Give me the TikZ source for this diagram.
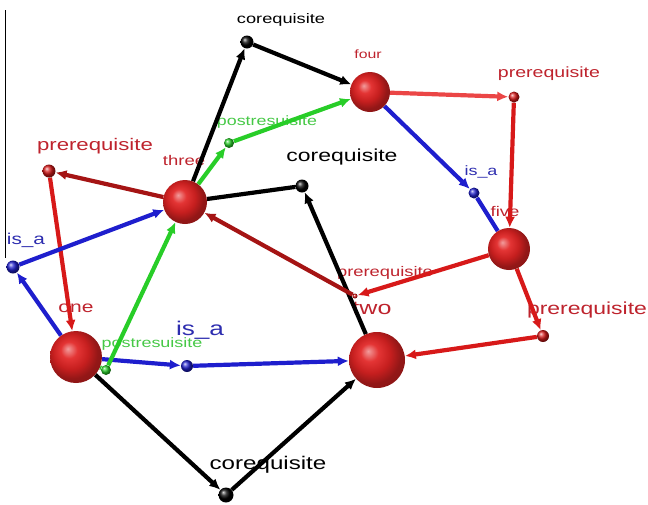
\documentclass[tikz,border=0pt]{standalone}
\usepackage{fontspec}
\setmainfont{Liberation Sans}
\usepackage{graphicx}
\usetikzlibrary{arrows.meta}
\definecolor{labred}{RGB}{190,35,45}
\definecolor{labblue}{RGB}{45,45,175}
\definecolor{labgreen}{RGB}{70,200,70}
\definecolor{edred}{RGB}{215,25,25}
\definecolor{eddark}{RGB}{165,20,20}
\definecolor{edpink}{RGB}{235,70,70}
\definecolor{edblue}{RGB}{30,30,205}
\definecolor{edgreen}{RGB}{40,205,40}
\definecolor{sphred}{RGB}{225,35,35}
\pgfdeclareradialshading{redsphere}{\pgfpoint{-8bp}{8bp}}{%
  color(0bp)=(sphred!45!white);
  color(8bp)=(sphred!92!white);
  color(17bp)=(sphred!88!black);
  color(25bp)=(sphred!65!black);
  color(50bp)=(sphred!55!black)}
\newcommand\mylbl[2]{\scalebox{1.32}[1]{\fontsize{#1}{#1}\selectfont #2}}
\pgfdeclarelayer{labs}
\pgfdeclarelayer{edges}
\pgfsetlayers{labs,edges,main}
\begin{document}
\begin{tikzpicture}[x=1pt,y=-1pt,
  bigball/.style={circle,inner sep=0pt,minimum size=#1,shading=redsphere},
  reldot/.style={circle,inner sep=0pt,minimum size=#1},
  lab/.style={inner sep=0pt,anchor=center},
  conn/.style={line width=4.2pt,-{Latex[length=11pt,width=10pt]}},
  plain/.style={line width=4.2pt}]
\useasboundingbox (0,0) rectangle (648,504);
\draw[line width=0.8pt] (5,10) -- (5,258);
% main nodes
\node[bigball=52pt] (one) at (76,357) {};
\node[bigball=56pt] (two) at (377,360) {};
\node[bigball=44pt] (three) at (185,202) {};
\node[bigball=40pt] (four) at (370,92) {};
\node[bigball=42pt] (five) at (509,249) {};
% relation dots
\node[reldot=13pt,ball color=black] (ct) at (247,42) {};
\node[reldot=11pt,ball color=edred] (prt) at (514,97) {};
\node[reldot=11pt,ball color=edblue] (ir) at (474,193) {};
\node[reldot=10pt,ball color=edgreen] (pt) at (229,143) {};
\node[reldot=13pt,ball color=edred] (pl) at (49,171) {};
\node[reldot=13pt,ball color=edblue] (il) at (13,267) {};
\node[reldot=13pt,ball color=black] (cc) at (302,186) {};
\node[reldot=5pt,ball color=edred] (pc) at (355,296) {};
\node[reldot=12pt,ball color=edblue] (ib) at (187,366) {};
\node[reldot=10pt,ball color=edgreen] (pb) at (106,370) {};
\node[reldot=15pt,ball color=black] (cb) at (226,495) {};
\node[reldot=12pt,ball color=edred] (plr) at (543,336) {};
% labels
\begin{pgfonlayer}{labs}
\node[lab,text=black] (l1) at (281,20) {\mylbl{13.8}{corequisite}};
\node[lab,text=labred] (l2) at (368,54) {\mylbl{12}{four}};
\node[lab,text=labred] (l3) at (549,74) {\mylbl{14.8}{prerequisite}};
\node[lab,text=labgreen] (l4) at (267,122) {\mylbl{13.5}{postresuisite}};
\node[lab,text=labred] (l5) at (95,146) {\mylbl{16.8}{prerequisite}};
\node[lab,text=labred] (l6) at (184,160) {\mylbl{14}{three}};
\node[lab,text=black] (l7) at (342,157) {\mylbl{17.4}{corequisite}};
\node[lab,text=labblue] (l8) at (481,172) {\mylbl{13.6}{is\_a}};
\node[lab,text=labred] (l9) at (505,211) {\mylbl{14}{five}};
\node[lab,text=labblue] (l10) at (26,240) {\mylbl{15.7}{is\_a}};
\node[lab,text=labred] (l11) at (385,273) {\mylbl{13.9}{prerequisite}};
\node[lab,text=labred] (l12) at (372,308) {\mylbl{19}{two}};
\node[lab,text=labred] (l13) at (76,308) {\mylbl{15.9}{one}};
\node[lab,text=labblue] (l14) at (200,330) {\mylbl{19.8}{is\_a}};
\node[lab,text=labgreen] (l15) at (152,344) {\mylbl{13.6}{postresuisite}};
\node[lab,text=black] (l16) at (268,465) {\mylbl{18.3}{corequisite}};
\node[lab,text=labred] (l17) at (587,310) {\mylbl{17.4}{prerequisite}};
\end{pgfonlayer}
% connectors
\begin{pgfonlayer}{edges}
\draw[conn,black] (three) -- (ct);
\draw[conn,black] (ct) -- (four);
\draw[conn,edgreen] (three) -- (pt);
\draw[conn,edgreen] (pt) -- (four);
\draw[conn,eddark] (three) -- (pl);
\draw[conn,edred] (pl) -- (one);
\draw[conn,edblue] (one) -- (il);
\draw[conn,edblue] (il) -- (three);
\draw[conn,black] (two) -- (cc);
\draw[plain,black] (cc) -- (three);
\draw[conn,edblue] (one) -- (ib);
\draw[conn,edblue] (ib) -- (two);
\draw[plain,edgreen] (one) -- (pb);
\draw[conn,edgreen] (pb) -- (three);
\draw[conn,black] (one) -- (cb);
\draw[conn,black] (cb) -- (two);
\draw[conn,edpink] (four) -- (prt);
\draw[conn,edred] (prt) -- (five);
\draw[conn,edblue] (four) -- (ir);
\draw[plain,edblue] (ir) -- (five);
\draw[conn,edred] (five) -- (pc);
\draw[conn,eddark] (pc) -- (three);
\draw[conn,edred] (five) -- (plr);
\draw[conn,edred] (plr) -- (two);
\end{pgfonlayer}
\end{tikzpicture}
\end{document}
